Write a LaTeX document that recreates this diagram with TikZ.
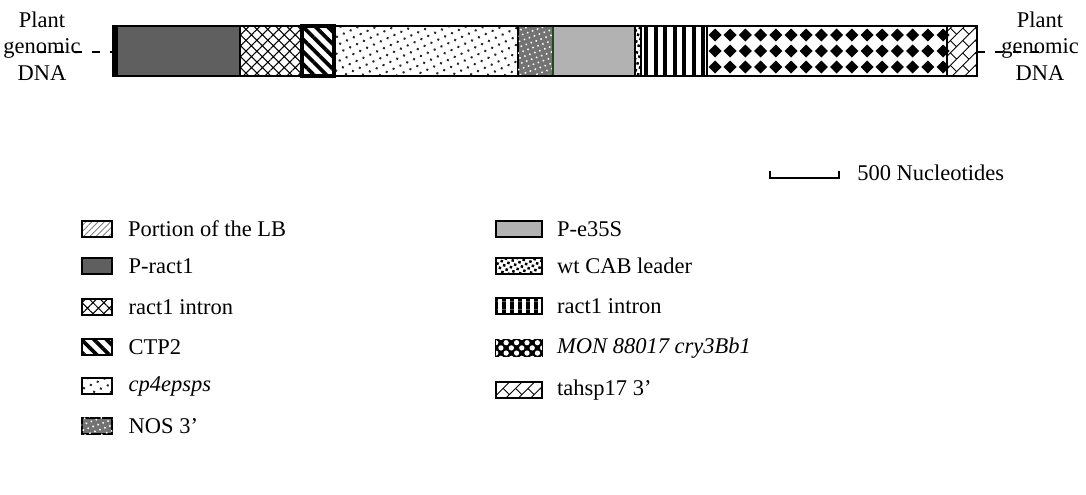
\documentclass[tikz,border=0pt]{standalone}
\usepackage{fontspec}
\setmainfont{Liberation Serif}
\usetikzlibrary{patterns,patterns.meta,positioning}

\definecolor{pgray}{HTML}{5F5F5F}
\definecolor{egray}{HTML}{B2B2B2}
\definecolor{egreen}{HTML}{1E4A1E}

% black diamonds on white
\tikzdeclarepattern{
  name=diamonds, type=uncolored,
  bounding box={(0pt,0pt) and (8.6pt,8.6pt)},
  tile size={(8.6pt,8.6pt)},
  code={\fill (4.3pt,0.6pt) -- (8pt,4.3pt) -- (4.3pt,8pt) -- (0.6pt,4.3pt) -- cycle;}
}
% vertical bars
\tikzdeclarepattern{
  name=vbars, type=uncolored,
  bounding box={(0pt,0pt) and (4.4pt,4.4pt)},
  tile size={(4.4pt,4.4pt)},
  code={\fill (0pt,0pt) rectangle (2.2pt,4.4pt);}
}
% diagonal bricks
\tikzdeclarepattern{
  name=diagbricks, type=uncolored,
  bounding box={(-.5pt,-.5pt) and (10.5pt,10.5pt)},
  tile size={(10pt,10pt)},
  tile transformation={rotate=45},
  code={\draw[line width=.5pt] (0pt,0pt) -- (10pt,0pt) (0pt,5pt) -- (10pt,5pt)
        (0pt,0pt) -- (0pt,5pt) (5pt,5pt) -- (5pt,10pt);}
}

\tikzset{
  seg/.style={draw, line width=1.1pt},
  pract/.style={fill=pgray},
  rintron/.style={pattern={Hatch[angle=45,distance=4.4pt,line width=.6pt]}},
  ctp/.style={pattern={Lines[angle=-45,distance=5pt,line width=2.1pt]}},
  cpdots/.style={pattern={Dots[angle=25,distance=4.3pt,radius=.8pt]}, pattern color=black!85},
  nos/.style={fill=black!55, postaction={pattern={Dots[angle=20,distance=3pt,radius=.6pt]}, pattern color=white}},
  esfill/.style={fill=egray},
  cab/.style={pattern={Dots[angle=30,distance=2.8pt,radius=1pt]}},
  vstripes/.style={pattern=vbars},
  diam/.style={fill=black, postaction={pattern={Dots[distance=4.2pt,radius=1.5pt,angle=45]}, pattern color=white}},
  tahsp/.style={pattern=diagbricks},
  lbpart/.style={pattern={Lines[angle=45,distance=2.5pt,line width=.5pt]}, pattern color=gray},
  lgbox/.style={draw, line width=1.1pt, minimum height=9.5pt, inner sep=0pt},
  lgtext/.style={anchor=west, inner sep=0pt},
  gdash/.style={line width=1.1pt, dash pattern=on 4.5pt off 5.7pt},
}

\begin{document}
\begin{tikzpicture}[x=0.02cm, y=-0.02cm, font=\fontsize{12.8}{15}\selectfont]
    \useasboundingbox (0,0) rectangle (1086,494);

    % Plant genomic DNA labels
    \node[align=center] (lgdna) at (42,46) {Plant\\genomic\\DNA};
    \node[align=center] (rgdna) at (1040,46) {Plant\\genomic\\DNA};

    % Draw the segments of the insert
    \draw[seg, pract] (117,26) rectangle (240,76);
    \draw[seg, rintron] (240,26) rectangle (302,76);
    \draw[seg, cpdots] (334,26) rectangle (518,76);
    \draw[seg, nos] (518,26) rectangle (553,76);
    \draw[seg, esfill, draw=egreen] (553,26) rectangle (635,76);
    \draw[seg, cab] (635,26) rectangle (641,76);
    \draw[seg] (641,26) rectangle (707,76);
    \draw[seg] (707,26) rectangle (947,76);
    \draw[seg, tahsp] (947,26) rectangle (977,76);
    \draw[seg, ctp, line width=1.8pt] (302,26) rectangle (334,76);

    % Vertical bars of the second intron
    \foreach \i in {0,...,6}
        \fill (644+9.5*\i,26) rectangle ++(4.2,50);

    % Diamonds of cry3Bb1
    \foreach \i in {0,...,15}
        \foreach \j in {0,1,2}
            \fill (715+15.2*\i,28.5+16*\j) -- ++(6.5,6.5) -- ++(-6.5,6.5) -- ++(-6.5,-6.5) -- cycle;

    % Outline of the insert, thick left end
    \draw[line width=1.6pt] (113,26) rectangle (977,76);
    \draw[line width=2.4pt] (115,26) -- (115,76);

    % Ends of the insert
    \coordinate (barL) at (113,52);
    \coordinate (barR) at (977,52);
    \coordinate (ldash) at (38,52);
    \coordinate (rdash) at (1043,52);

    % Dashed flanking DNA
    \draw[gdash] (ldash) -- (barL);
    \draw[gdash] (barR) -- (rdash);

    % Scale bar
    \coordinate (sbL) at (770,171);
    \coordinate (sbR) at (839,171);
    \draw[line width=1.2pt] (sbL) -- ++(0,7) -| (sbR);
    \node[lgtext] (sbtext) at (857,173) {500 Nucleotides};

    % Legend, left column
    \node[lgbox, lbpart, minimum width=17.6pt] (klb) at (97,229) {};
    \node[lgtext, right=8.5pt of klb] (tlb) {Portion of the LB};
    \node[lgbox, pract, minimum width=17.6pt] (kpract) at (97,266) {};
    \node[lgtext, right=8.5pt of kpract] (tpract) {P-ract1};
    \node[lgbox, rintron, minimum width=17.6pt] (kintron) at (97,307) {};
    \node[lgtext, right=8.5pt of kintron] (tintron) {ract1 intron};
    \node[lgbox, ctp, minimum width=17.6pt] (kctp) at (97,347) {};
    \node[lgtext, right=8.5pt of kctp] (tctp) {CTP2};
    \node[lgbox, cpdots, minimum width=17.6pt] (kcp) at (97,386) {};
    \node[lgtext, right=8.5pt of kcp] (tcp) {\itshape cp4epsps};
    \node[lgbox, nos, minimum width=17.6pt] (knos) at (97,426) {};
    \node[lgtext, right=8.5pt of knos] (tnos) {NOS 3’};

    % Legend, right column
    \node[lgbox, esfill, minimum width=26pt] (kes) at (519,229) {};
    \node[lgtext, right=8pt of kes] (tes) {P-e35S};
    \node[lgbox, cab, minimum width=26pt] (kcab) at (519,266) {};
    \node[lgtext, right=8pt of kcab] (tcab) {wt CAB leader};
    \node[lgbox, vstripes, minimum width=26pt] (kvs) at (519,306) {};
    \node[lgtext, right=8pt of kvs] (tvs) {ract1 intron};
    \node[lgbox, diam, minimum width=26pt] (kdia) at (519,348) {};
    \node[lgtext, right=8pt of kdia] (tdia) {\itshape MON 88017 cry3Bb1};
    \node[lgbox, tahsp, minimum width=26pt] (kta) at (519,390) {};
    \node[lgtext, right=8pt of kta] (tta) {tahsp17 3’};

\end{tikzpicture}
\end{document}
